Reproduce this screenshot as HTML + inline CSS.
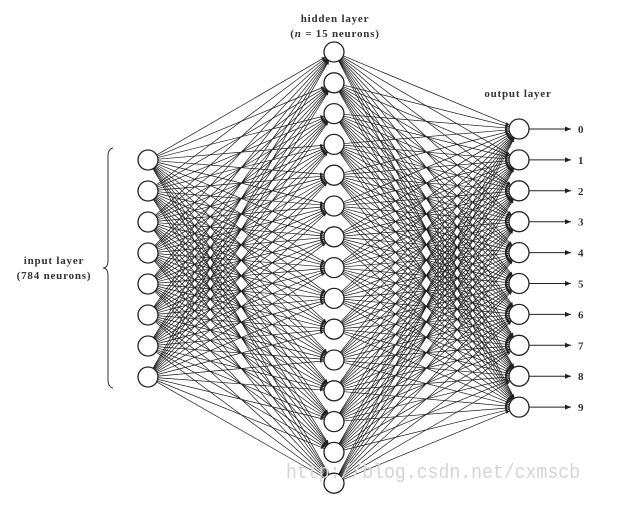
<!DOCTYPE html>
<html><head><meta charset="utf-8"><style>
html,body{margin:0;padding:0;background:#fff;}
svg{display:block;}
text{font-family:"Liberation Serif",serif;fill:#333;}
</style></head><body>
<svg id="s" width="621" height="505" viewBox="0 0 621 505" xmlns="http://www.w3.org/2000/svg">
<defs>
<marker id="a" markerWidth="6" markerHeight="6" refX="4" refY="2.5" orient="auto" markerUnits="userSpaceOnUse">
<path d="M0,0.9 L4,2.5 L0,4.1 Z" fill="#222"/>
</marker>
<marker id="b" markerWidth="8" markerHeight="8" refX="6" refY="3" orient="auto" markerUnits="userSpaceOnUse">
<path d="M0,0.5 L6,3 L0,5.5 Z" fill="#222"/>
</marker>
</defs>
<g id="lines" stroke="#1a1a1a" stroke-width="0.7" fill="none"></g>
<g id="nodes" stroke="#222" stroke-width="1.3" fill="#fff"></g>
<text x="335" y="22" font-size="11" text-anchor="middle" font-weight="bold" letter-spacing="0.8">hidden layer</text>
<text x="335" y="37" font-size="11" text-anchor="middle" font-weight="bold" letter-spacing="0.8">(<tspan font-style="italic">n</tspan> = 15 neurons)</text>
<text x="518" y="97" font-size="11" text-anchor="middle" font-weight="bold" letter-spacing="0.8">output layer</text>
<text x="54" y="264" font-size="11" text-anchor="middle" font-weight="bold" letter-spacing="0.8">input layer</text>
<text x="54" y="279" font-size="11" text-anchor="middle" font-weight="bold" letter-spacing="0.8">(784 neurons)</text>
<path d="M113,148 Q108,149 108,156 L108,260 Q108,268 103,268 Q108,268 108,276 L108,380 Q108,387 113,388" stroke="#333" stroke-width="1" fill="none"/>
<text x="286" y="478" font-size="20" textLength="294" lengthAdjust="spacingAndGlyphs" style="font-family:'Liberation Mono',monospace;fill:#d4d4d4">http://blog.csdn.net/cxmscb</text>
</svg>
<script>
var L=document.getElementById('lines'),N=document.getElementById('nodes'),S=document.getElementById('s');
var ns="http://www.w3.org/2000/svg",r=10;
function pts(x,y0,n,d){var a=[];for(var i=0;i<n;i++)a.push([x,y0+i*d]);return a;}
var inp=pts(148,160,8,31),hid=pts(334,52,15,30.8),out=pts(519,129,10,30.9);
function conn(A,B){A.forEach(function(p){B.forEach(function(q){
var dx=q[0]-p[0],dy=q[1]-p[1],l=Math.sqrt(dx*dx+dy*dy),ux=dx/l,uy=dy/l;
var e=document.createElementNS(ns,'line');
e.setAttribute('x1',p[0]+ux*r);e.setAttribute('y1',p[1]+uy*r);
e.setAttribute('x2',q[0]-ux*r);e.setAttribute('y2',q[1]-uy*r);
e.setAttribute('marker-end','url(#a)');L.appendChild(e);});});}
conn(inp,hid);conn(hid,out);
inp.concat(hid,out).forEach(function(p){var c=document.createElementNS(ns,'circle');
c.setAttribute('cx',p[0]);c.setAttribute('cy',p[1]);c.setAttribute('r',r);N.appendChild(c);});
out.forEach(function(p,i){var e=document.createElementNS(ns,'line');
e.setAttribute('x1',p[0]+r);e.setAttribute('y1',p[1]);e.setAttribute('x2',571);e.setAttribute('y2',p[1]);
e.setAttribute('stroke','#222');e.setAttribute('stroke-width','1');e.setAttribute('marker-end','url(#b)');S.appendChild(e);
var t=document.createElementNS(ns,'text');t.setAttribute('x',578);t.setAttribute('y',p[1]+4);
t.setAttribute('font-size','11');t.setAttribute('font-weight','bold');t.textContent=i;S.appendChild(t);});
</script>
</body></html>
